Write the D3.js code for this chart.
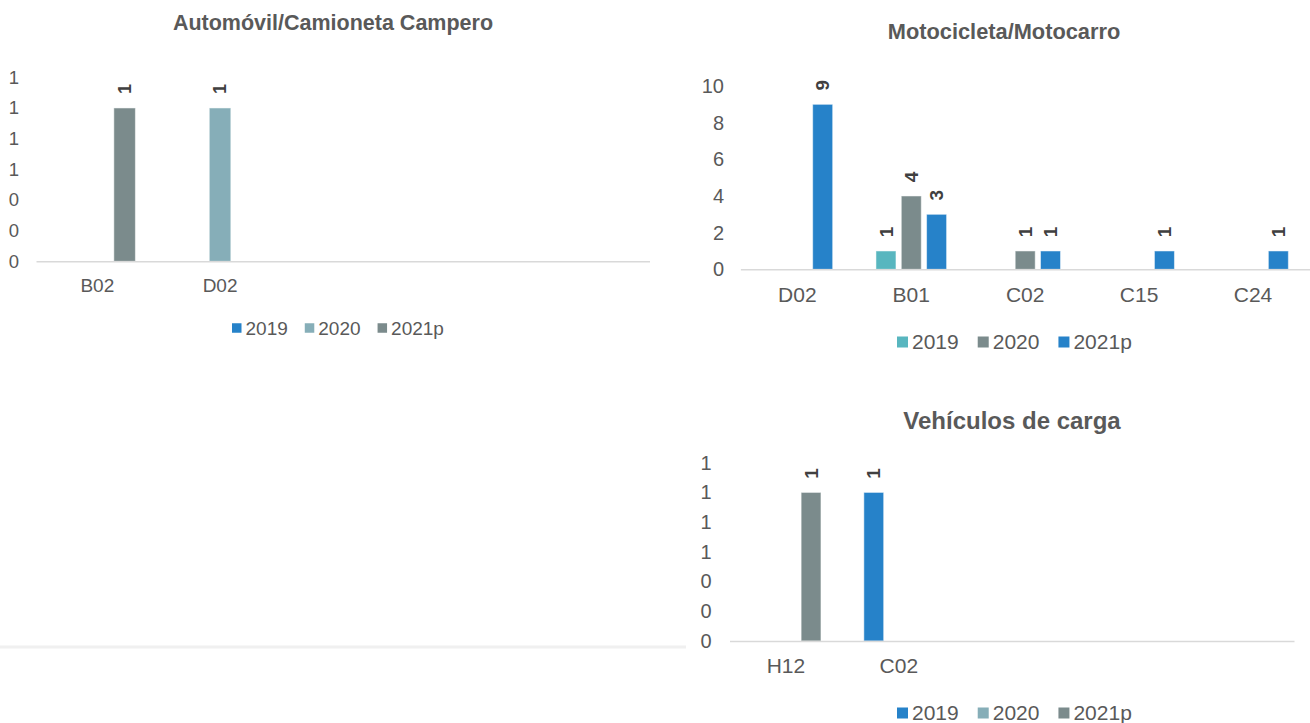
<!DOCTYPE html>
<html lang="es">
    <head>
        <meta charset="UTF-8">
        <title>Vehículos</title>
        <script type="text/javascript" src="https://cdnjs.cloudflare.com/ajax/libs/d3/7.8.5/d3.min.js"></script>
        <style>
            html, body { margin: 0; padding: 0; background: #fff; }
            svg { display: block; font-family: 'Liberation Sans', Arial, sans-serif; }
        </style>
    </head>
    <body>
        <div id="svg-container"></div>
        <script type="text/javascript">
            var WIDTH = 1310;
            var HEIGHT = 723;

            var seriesNames = ['2019', '2020', '2021p'];

            // automovil / camioneta campero
            var autoCategories = ['B02', 'D02', '', '', ''];
            var auto2019 = [null, null, null, null, null];
            var auto2020 = [null, 1, null, null, null];
            var auto2021p = [1, null, null, null, null];
            var autoTicks = [0, 0.2, 0.4, 0.6, 0.8, 1, 1.2];

            // motocicleta / motocarro
            var motoCategories = ['D02', 'B01', 'C02', 'C15', 'C24'];
            var moto2019 = [null, 1, null, null, null];
            var moto2020 = [null, 4, 1, null, null];
            var moto2021p = [9, 3, 1, 1, 1];
            var motoTicks = [0, 2, 4, 6, 8, 10];

            // vehiculos de carga
            var cargaCategories = ['H12', 'C02', '', '', ''];
            var carga2019 = [null, 1, null, null, null];
            var carga2020 = [null, null, null, null, null];
            var carga2021p = [1, null, null, null, null];
            var cargaTicks = [0, 0.2, 0.4, 0.6, 0.8, 1, 1.2];

            var BLUE = '#2682c9';
            var GRAY = '#7b8b8c';
            var PALE = '#86aeb8';
            var TEAL = '#58b6bf';
            var TEXT = '#595959';

            var svg = d3.select('#svg-container').append('svg')
                .attr('width', WIDTH)
                .attr('height', HEIGHT);

            // leftover frame line of an empty chart
            svg.append('line')
                .attr('x1', 0).attr('x2', 686)
                .attr('y1', 647).attr('y2', 647)
                .attr('stroke', '#f0f0f0')
                .attr('stroke-width', 3);

            var drawChart = function (cfg) {
                var g = svg.append('g');
                var n = cfg.categories.length;

                var x0 = d3.scaleBand()
                    .domain(d3.range(n))
                    .range([cfg.left, cfg.right])
                    .paddingInner(0.38)
                    .paddingOuter(0.19);

                var x1 = d3.scaleBand()
                    .domain(d3.range(seriesNames.length))
                    .range([0, x0.bandwidth()])
                    .paddingInner(0.21);

                var y = d3.scaleLinear()
                    .domain([0, cfg.max])
                    .range([cfg.bottom, cfg.top]);

                // title
                g.append('text')
                    .attr('x', cfg.titleX)
                    .attr('y', cfg.titleY)
                    .attr('text-anchor', 'middle')
                    .attr('font-weight', 'bold')
                    .attr('font-size', cfg.titleSize)
                    .attr('fill', TEXT)
                    .text(cfg.title);

                // y axis, labels only
                var yAxis = g.append('g')
                    .attr('transform', 'translate(' + cfg.labelRight + ',0)')
                    .call(d3.axisLeft(y)
                        .tickValues(cfg.ticks)
                        .tickFormat(d3.format('.0f'))
                        .tickSize(0)
                        .tickPadding(0));
                yAxis.select('.domain').remove();
                yAxis.selectAll('text')
                    .attr('font-family', null)
                    .attr('font-size', cfg.fontSize)
                    .attr('fill', TEXT);

                // bars
                var rows = [];
                cfg.series.forEach(function (values, s) {
                    values.forEach(function (v, i) {
                        if (v) {
                            rows.push({ i: i, s: s, v: v });
                        }
                    });
                });

                g.selectAll('rect.bar')
                    .data(rows)
                    .enter()
                    .append('rect')
                    .attr('class', 'bar')
                    .attr('x', function (d) { return x0(d.i) + x1(d.s); })
                    .attr('y', function (d) { return y(d.v); })
                    .attr('width', x1.bandwidth())
                    .attr('height', function (d) { return y(0) - y(d.v); })
                    .attr('fill', function (d) { return cfg.colors[d.s]; })
                    .attr('stroke', '#ffffff')
                    .attr('stroke-opacity', 0.5)
                    .attr('stroke-width', 1);

                // x axis
                var xAxis = g.append('g')
                    .attr('transform', 'translate(0,' + cfg.bottom + ')')
                    .call(d3.axisBottom(x0)
                        .tickFormat(function (i) { return cfg.categories[i]; })
                        .tickSize(0)
                        .tickSizeOuter(0)
                        .tickPadding(cfg.catPad));
                xAxis.select('.domain')
                    .attr('stroke', '#d9d9d9')
                    .attr('stroke-width', 1.5);
                xAxis.selectAll('text')
                    .attr('font-family', null)
                    .attr('font-size', cfg.catSize)
                    .attr('fill', TEXT);

                // data labels
                g.selectAll('text.value')
                    .data(rows)
                    .enter()
                    .append('text')
                    .attr('class', 'value')
                    .attr('transform', function (d) {
                        var cx = x0(d.i) + x1(d.s) + x1.bandwidth() / 2;
                        return 'translate(' + cx + ',' + (y(d.v) - 19) + ') rotate(-90)';
                    })
                    .attr('text-anchor', 'middle')
                    .attr('dy', '0.35em')
                    .attr('font-weight', 'bold')
                    .attr('font-size', cfg.labelSize)
                    .attr('fill', '#404040')
                    .text(function (d) { return d.v; });

                // legend
                var legend = g.append('g')
                    .attr('transform', 'translate(' + cfg.legendX + ',' + cfg.legendY + ')');
                var cursor = 0;
                seriesNames.forEach(function (name, s) {
                    legend.append('rect')
                        .attr('x', cursor)
                        .attr('y', -cfg.square / 2)
                        .attr('width', cfg.square)
                        .attr('height', cfg.square)
                        .attr('fill', cfg.colors[s]);
                    var t = legend.append('text')
                        .attr('x', cursor + cfg.square + 4)
                        .attr('dy', '0.35em')
                        .attr('font-size', cfg.legendSize)
                        .attr('fill', TEXT)
                        .text(name);
                    cursor += cfg.square + 4 + t.node().getComputedTextLength() + cfg.legendGap;
                });
            };

            drawChart({
                title: 'Automóvil/Camioneta Campero',
                categories: autoCategories,
                series: [auto2019, auto2020, auto2021p],
                colors: [BLUE, PALE, GRAY],
                ticks: autoTicks,
                max: 1.2,
                left: 36, right: 649.5, top: 77.3, bottom: 261.3,
                labelRight: 19,
                fontSize: 18.5, catSize: 19, labelSize: 18, titleSize: 21.5,
                titleX: 333, titleY: 30,
                catPad: 17.5,
                legendX: 232, legendY: 328, square: 9.5, legendSize: 19, legendGap: 17
            });

            drawChart({
                title: 'Motocicleta/Motocarro',
                categories: motoCategories,
                series: [moto2019, moto2020, moto2021p],
                colors: [TEAL, GRAY, BLUE],
                ticks: motoTicks,
                max: 10,
                left: 740.4, right: 1310, top: 86, bottom: 269.3,
                labelRight: 724,
                fontSize: 20, catSize: 21, labelSize: 19, titleSize: 21.8,
                titleX: 1004, titleY: 39,
                catPad: 18,
                legendX: 897, legendY: 342, square: 11, legendSize: 21, legendGap: 19
            });

            drawChart({
                title: 'Vehículos de carga',
                categories: cargaCategories,
                series: [carga2019, carga2020, carga2021p],
                colors: [BLUE, PALE, GRAY],
                ticks: cargaTicks,
                max: 1.2,
                left: 729.5, right: 1294, top: 462.7, bottom: 641,
                labelRight: 711.5,
                fontSize: 20, catSize: 21, labelSize: 19, titleSize: 24,
                titleX: 1012, titleY: 428.6,
                catPad: 17,
                legendX: 897, legendY: 713, square: 11, legendSize: 21, legendGap: 19
            });
        </script>
    </body>
</html>
